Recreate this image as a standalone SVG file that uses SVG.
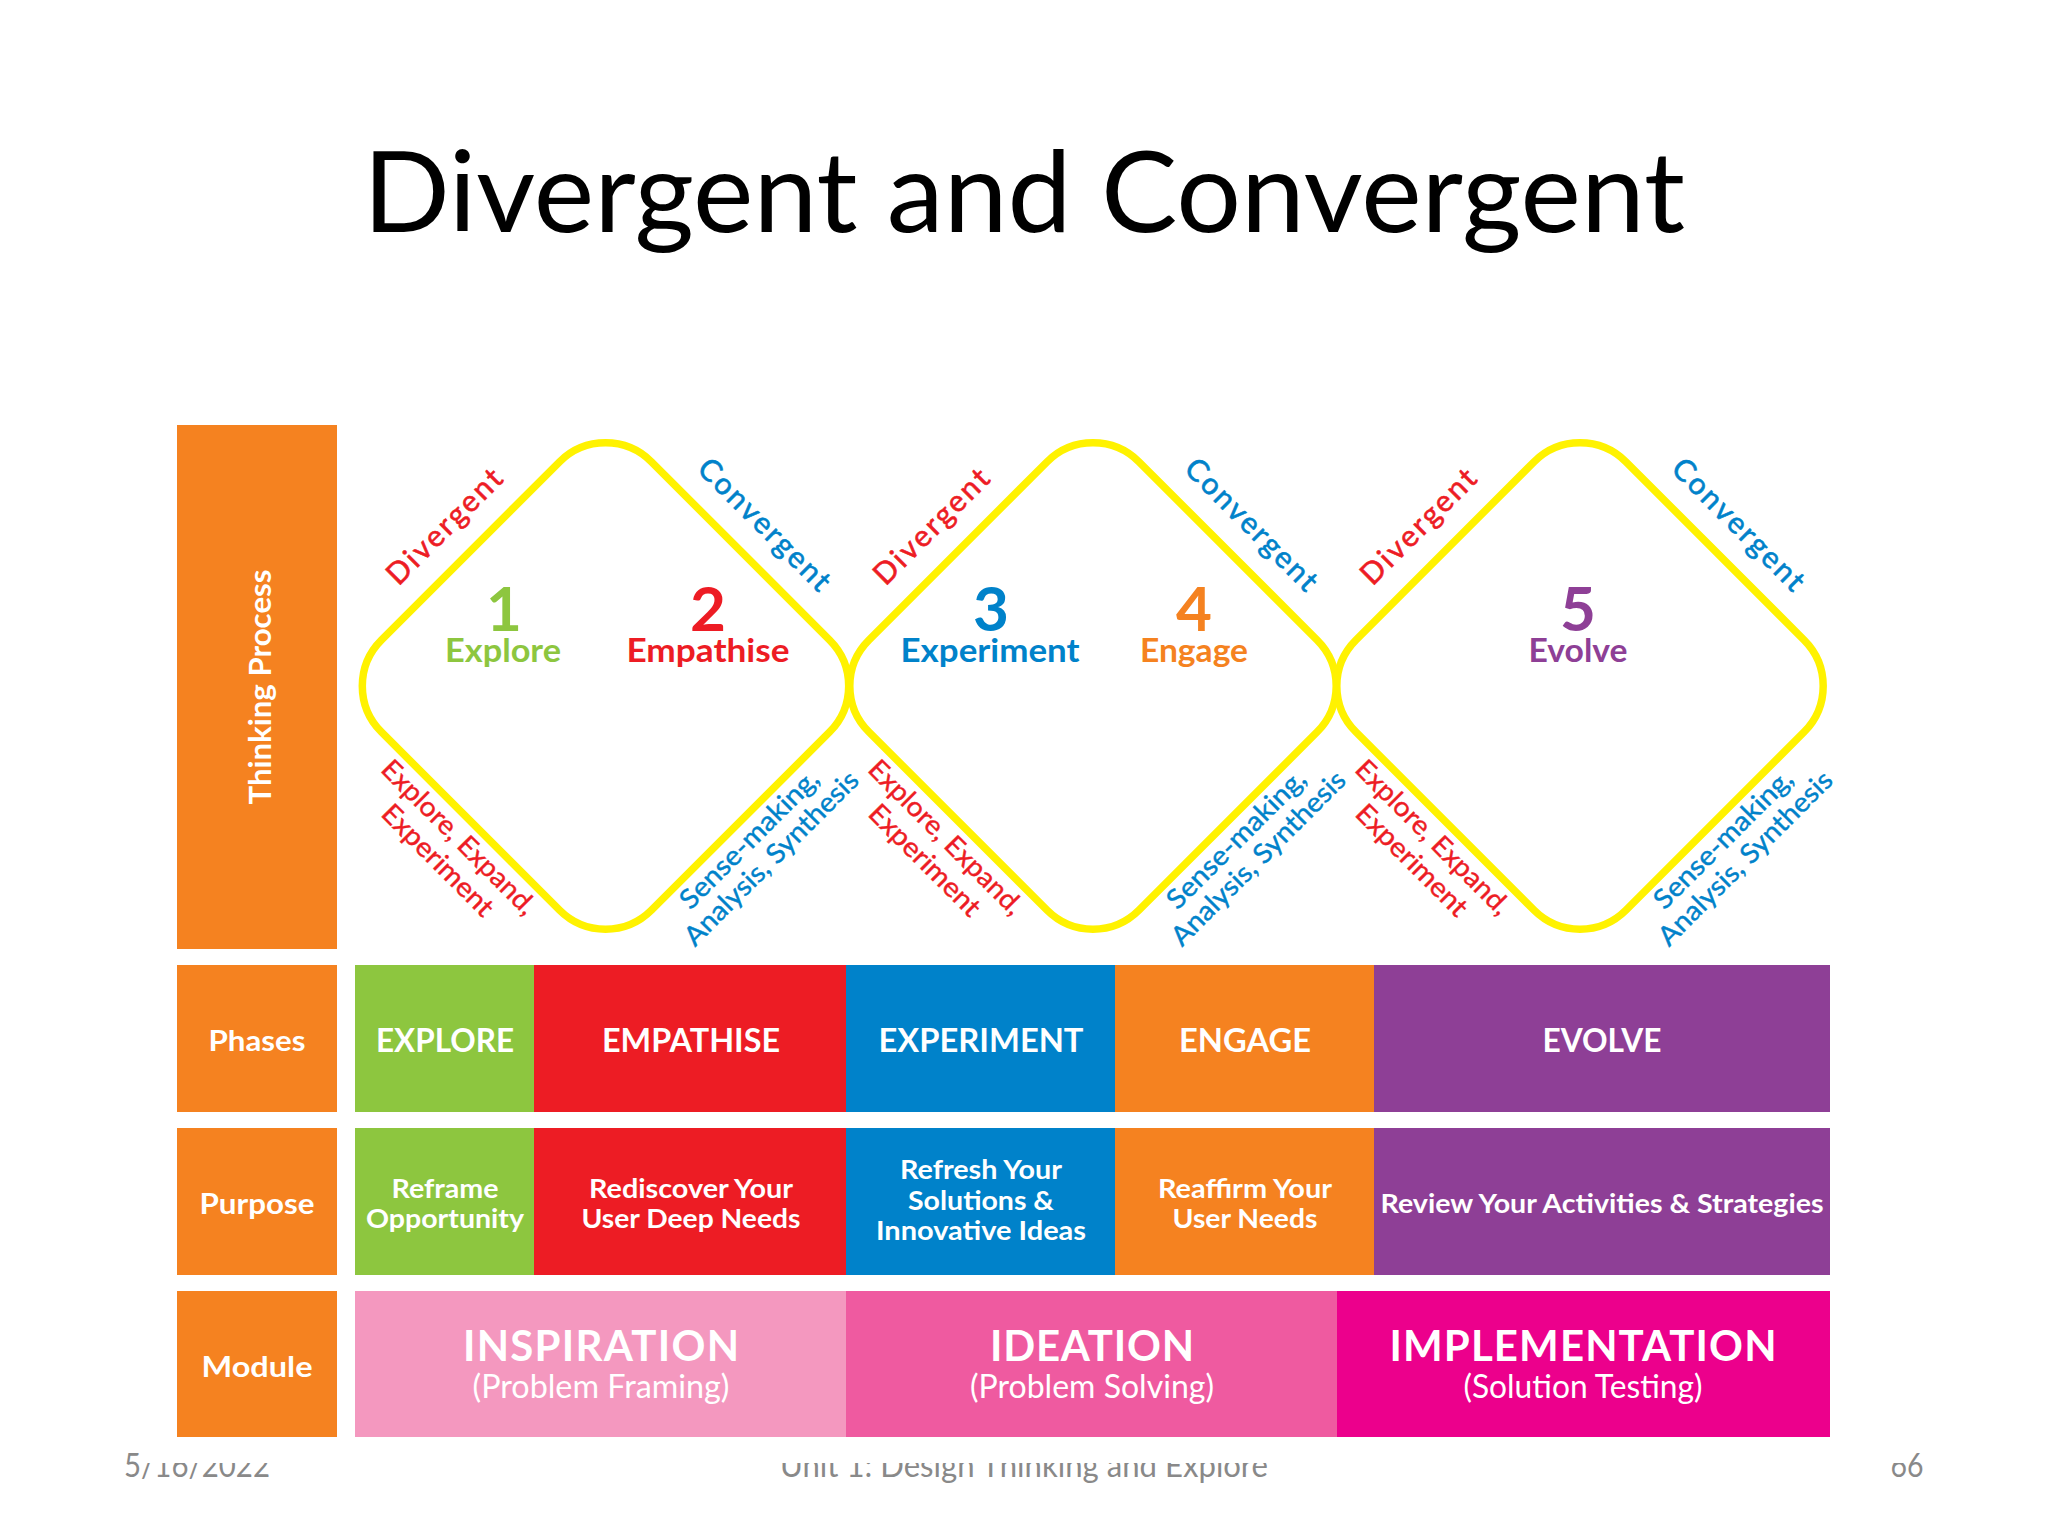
<svg xmlns="http://www.w3.org/2000/svg" width="2048" height="1536" viewBox="0 0 2048 1536">
<style>
text{font-family:Lato,"Liberation Sans",sans-serif;text-anchor:middle}
.b{font-weight:700;fill:#fff}
.p{font-size:29px}
.ph{font-size:33px}
.s{font-size:27px}
.m{font-size:42px;letter-spacing:0}
.r{font-weight:400;fill:#fff;font-size:32px}
.ft{font-size:32px;fill:#898989}
.num{font-size:62px;font-weight:700}
.nm{font-size:33px;font-weight:700}
.rot{font-size:27px;stroke-width:.4}
.big{font-size:30px;stroke-width:.6}
.red{fill:#ED1C24;stroke:#ED1C24}.blu{fill:#0082CA;stroke:#0082CA}
.dia{fill:none;stroke:#FFF200;stroke-width:7.5}
</style>
<defs>
<rect id="d" x="-191" y="-191" width="382" height="382" rx="65" ry="65" transform="rotate(45)" class="dia"/>
<g id="labels">
<text class="rot big red" transform="translate(446 528) rotate(-45)" y="8" textLength="150" lengthAdjust="spacing">Divergent</text>
<text class="rot big blu" transform="translate(763 526) rotate(45)" y="8" textLength="174" lengthAdjust="spacing">Convergent</text>
<text class="rot red" transform="translate(458 838) rotate(45)" y="8" textLength="206" lengthAdjust="spacingAndGlyphs">Explore, Expand,</text>
<text class="rot red" transform="translate(437 861) rotate(45)" y="8" textLength="146" lengthAdjust="spacingAndGlyphs">Experiment</text>
<text class="rot blu" transform="translate(750 840) rotate(-45)" y="8" textLength="184" lengthAdjust="spacingAndGlyphs">Sense-making,</text>
<text class="rot blu" transform="translate(772 859) rotate(-45)" y="8" textLength="234" lengthAdjust="spacingAndGlyphs">Analysis, Synthesis</text>
</g>
</defs>
<rect width="2048" height="1536" fill="#fff"/>
<g id="footer">
<text class="ft" x="197" y="1477" textLength="146" lengthAdjust="spacingAndGlyphs">5/16/2022</text>
<text class="ft" x="1024" y="1477" textLength="488" lengthAdjust="spacingAndGlyphs">Unit 1: Design Thinking and Explore</text>
<text class="ft" x="1907" y="1477" textLength="33" lengthAdjust="spacingAndGlyphs">66</text>
<rect x="146" y="1430" width="1760" height="33" fill="#fff"/>
</g>
<text id="title" x="1024" y="232" font-size="112" fill="#000" textLength="1322" lengthAdjust="spacingAndGlyphs">Divergent and Convergent</text>
<g id="connectors">
<use href="#d" x="605.5" y="686"/>
<use href="#d" x="1093" y="686"/>
<use href="#d" x="1580" y="686"/>
<use href="#labels"/>
<use href="#labels" x="487"/>
<use href="#labels" x="974"/>
</g>
<g id="stage-labels">
<text class="num" x="504" y="631" fill="#8DC63F">1</text><text class="nm" x="503" y="662" fill="#8DC63F" textLength="116" lengthAdjust="spacingAndGlyphs">Explore</text>
<text class="num" x="708" y="631" fill="#ED1C24">2</text><text class="nm" x="708" y="662" fill="#ED1C24" textLength="163" lengthAdjust="spacingAndGlyphs">Empathise</text>
<text class="num" x="991" y="631" fill="#0082CA">3</text><text class="nm" x="990" y="662" fill="#0082CA" textLength="179" lengthAdjust="spacingAndGlyphs">Experiment</text>
<text class="num" x="1194" y="631" fill="#F58220">4</text><text class="nm" x="1194" y="662" fill="#F58220" textLength="108" lengthAdjust="spacingAndGlyphs">Engage</text>
<text class="num" x="1578" y="631" fill="#8E3F96">5</text><text class="nm" x="1578" y="662" fill="#8E3F96" textLength="99" lengthAdjust="spacingAndGlyphs">Evolve</text>
</g>
<g id="thinking"><rect x="177" y="425" width="160" height="524" fill="#F58220"/><text class="b" font-size="31" transform="translate(271 687) rotate(-90)" textLength="235" lengthAdjust="spacingAndGlyphs">Thinking Process</text></g>
<g id="phases-head"><rect x="177" y="965" width="160" height="147" fill="#F58220"/><text class="b p" x="257" y="1051" textLength="97" lengthAdjust="spacingAndGlyphs">Phases</text></g>
<g id="phase-explore"><rect x="355" y="965" width="179" height="147" fill="#8DC63F"/><text class="b ph" x="445" y="1052" textLength="138" lengthAdjust="spacingAndGlyphs">EXPLORE</text></g>
<g id="phase-empathise"><rect x="534" y="965" width="312" height="147" fill="#ED1C24"/><text class="b ph" x="691" y="1052" textLength="178" lengthAdjust="spacingAndGlyphs">EMPATHISE</text></g>
<g id="phase-experiment"><rect x="846" y="965" width="269" height="147" fill="#0082CA"/><text class="b ph" x="981" y="1052" textLength="205" lengthAdjust="spacingAndGlyphs">EXPERIMENT</text></g>
<g id="phase-engage"><rect x="1115" y="965" width="259" height="147" fill="#F58220"/><text class="b ph" x="1245" y="1052" textLength="132" lengthAdjust="spacingAndGlyphs">ENGAGE</text></g>
<g id="phase-evolve"><rect x="1374" y="965" width="456" height="147" fill="#8E3F96"/><text class="b ph" x="1602" y="1052" textLength="119" lengthAdjust="spacingAndGlyphs">EVOLVE</text></g>
<g id="purpose-head"><rect x="177" y="1128" width="160" height="147" fill="#F58220"/><text class="b p" x="257" y="1214" textLength="115" lengthAdjust="spacingAndGlyphs">Purpose</text></g>
<g id="purpose-explore"><rect x="355" y="1128" width="179" height="147" fill="#8DC63F"/><text class="b s" x="445" y="1198" textLength="107" lengthAdjust="spacingAndGlyphs">Reframe</text><text class="b s" x="445" y="1228" textLength="158" lengthAdjust="spacingAndGlyphs">Opportunity</text></g>
<g id="purpose-empathise"><rect x="534" y="1128" width="312" height="147" fill="#ED1C24"/><text class="b s" x="691" y="1198" textLength="204" lengthAdjust="spacingAndGlyphs">Rediscover Your</text><text class="b s" x="691" y="1228" textLength="219" lengthAdjust="spacingAndGlyphs">User Deep Needs</text></g>
<g id="purpose-experiment"><rect x="846" y="1128" width="269" height="147" fill="#0082CA"/><text class="b s" x="981" y="1179" textLength="162" lengthAdjust="spacingAndGlyphs">Refresh Your</text><text class="b s" x="981" y="1210" textLength="146" lengthAdjust="spacingAndGlyphs">Solutions &amp;</text><text class="b s" x="981" y="1240" textLength="210" lengthAdjust="spacingAndGlyphs">Innovative Ideas</text></g>
<g id="purpose-engage"><rect x="1115" y="1128" width="259" height="147" fill="#F58220"/><text class="b s" x="1245" y="1198" textLength="174" lengthAdjust="spacingAndGlyphs">Reaffirm Your</text><text class="b s" x="1245" y="1228" textLength="145" lengthAdjust="spacingAndGlyphs">User Needs</text></g>
<g id="purpose-evolve"><rect x="1374" y="1128" width="456" height="147" fill="#8E3F96"/><text class="b s" x="1602" y="1213" textLength="443" lengthAdjust="spacingAndGlyphs">Review Your Activities &amp; Strategies</text></g>
<g id="module-head"><rect x="177" y="1291" width="160" height="146" fill="#F58220"/><text class="b p" x="257" y="1377" textLength="111" lengthAdjust="spacingAndGlyphs">Module</text></g>
<g id="module-inspiration"><rect x="355" y="1291" width="491" height="146" fill="#F498BF"/><text class="b m" x="601" y="1361" textLength="276">INSPIRATION</text><text class="r" x="601" y="1398" textLength="257" lengthAdjust="spacingAndGlyphs">(Problem Framing)</text></g>
<g id="module-ideation"><rect x="846" y="1291" width="491" height="146" fill="#EF5AA0"/><text class="b m" x="1092" y="1361" textLength="204">IDEATION</text><text class="r" x="1092" y="1398" textLength="244" lengthAdjust="spacingAndGlyphs">(Problem Solving)</text></g>
<g id="module-implementation"><rect x="1337" y="1291" width="493" height="146" fill="#EC008C"/><text class="b m" x="1583" y="1361" textLength="387">IMPLEMENTATION</text><text class="r" x="1583" y="1398" textLength="239" lengthAdjust="spacingAndGlyphs">(Solution Testing)</text></g>
</svg>
